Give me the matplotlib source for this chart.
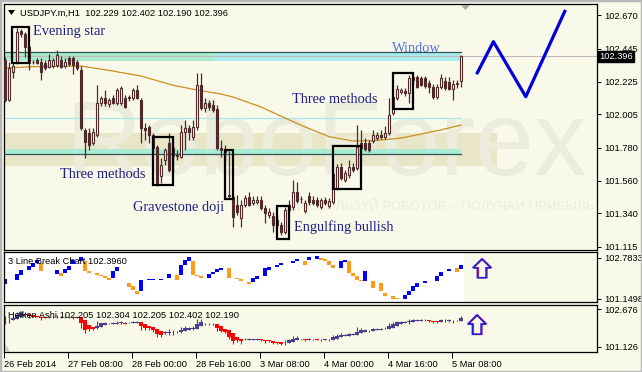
import matplotlib
matplotlib.use('Agg')
import matplotlib.pyplot as plt
from matplotlib.patches import Rectangle, Polygon
import numpy as np

W, H = 642, 372
BG = '#f9f9e9'
CANDLE = '#4e2a2a'
NAVY = '#1e1e86'
FONT = 'Liberation Sans'
FS = 6.7

# ── USDJPY H1 bars (bar index 0 = 26 Feb 16:00) ──────────────────────────────
opens = [102.370, 102.101, 102.289, 102.356, 102.565, 102.545, 102.457, 102.356, 102.370, 102.356,
         102.350, 102.323, 102.329, 102.336, 102.370, 102.329, 102.383, 102.383, 102.356, 102.303,
         101.899, 101.879, 101.812, 101.866, 102.081, 102.114, 102.074, 102.114, 102.081, 102.081,
         102.114, 102.114, 102.114, 102.168, 102.101, 101.913, 101.920, 101.866, 101.785, 101.590,
         101.698, 101.812, 101.778, 101.725, 101.718, 101.886, 101.913, 101.852, 101.920, 102.202,
         102.047, 102.081, 102.067, 102.041, 101.778, 101.765, 101.463, 101.449, 101.395, 101.308,
         101.395, 101.449, 101.409, 101.416, 101.429, 101.375, 101.328, 101.321, 101.295, 101.261,
         101.214, 101.362, 101.382, 101.483, 101.436, 101.355, 101.456, 101.429, 101.429, 101.382,
         101.429, 101.389, 101.416, 101.510, 101.651, 101.563, 101.597, 101.651, 101.644, 101.812,
         101.812, 101.812, 101.825, 101.846, 101.866, 101.852, 101.879, 102.014, 102.114, 102.155,
         102.161, 102.148, 102.235, 102.256, 102.249, 102.249, 102.215, 102.188, 102.121, 102.188,
         102.229, 102.222, 102.175, 102.209, 102.229]
highs = [102.390, 102.356, 102.356, 102.585, 102.578, 102.558, 102.471, 102.370, 102.383, 102.383,
         102.370, 102.410, 102.383, 102.437, 102.397, 102.383, 102.397, 102.397, 102.370, 102.329,
         101.913, 101.913, 101.913, 102.202, 102.128, 102.168, 102.114, 102.135, 102.182, 102.195,
         102.135, 102.135, 102.182, 102.202, 102.114, 101.946, 101.933, 101.879, 101.799, 101.711,
         101.778, 101.879, 101.832, 101.765, 101.933, 101.967, 101.933, 101.967, 102.282, 102.282,
         102.114, 102.101, 102.101, 102.067, 101.832, 101.799, 101.758, 101.463, 101.463, 101.429,
         101.463, 101.483, 101.456, 101.456, 101.456, 101.395, 101.375, 101.348, 101.328, 101.281,
         101.382, 101.429, 101.563, 101.550, 101.456, 101.429, 101.483, 101.456, 101.449, 101.442,
         101.449, 101.442, 101.624, 101.671, 101.678, 101.631, 101.698, 101.678, 101.933, 101.899,
         101.846, 101.832, 101.899, 101.886, 101.899, 101.926, 102.114, 102.135, 102.202, 102.182,
         102.182, 102.269, 102.269, 102.269, 102.262, 102.262, 102.235, 102.209, 102.209, 102.276,
         102.256, 102.256, 102.235, 102.235, 102.402]
lows = [102.088, 102.094, 102.249, 102.343, 102.524, 102.390, 102.303, 102.343, 102.343, 102.235,
        102.303, 102.316, 102.316, 102.323, 102.316, 102.316, 102.329, 102.276, 102.303, 101.899,
        101.711, 101.765, 101.799, 101.852, 102.061, 102.061, 102.054, 102.074, 102.067, 102.067,
        102.047, 102.094, 102.101, 102.108, 101.812, 101.832, 101.812, 101.745, 101.523, 101.543,
        101.664, 101.617, 101.617, 101.698, 101.711, 101.765, 101.832, 101.832, 101.899, 102.034,
        102.020, 102.034, 102.020, 101.765, 101.718, 101.698, 101.442, 101.248, 101.328, 101.248,
        101.382, 101.389, 101.395, 101.402, 101.362, 101.274, 101.308, 101.214, 101.241, 101.194,
        101.201, 101.348, 101.362, 101.409, 101.409, 101.342, 101.395, 101.395, 101.382, 101.369,
        101.395, 101.375, 101.402, 101.496, 101.563, 101.550, 101.577, 101.617, 101.631, 101.752,
        101.758, 101.752, 101.812, 101.832, 101.839, 101.839, 101.866, 102.000, 102.101, 102.141,
        102.128, 102.081, 102.209, 102.182, 102.195, 102.182, 102.148, 102.108, 102.108, 102.175,
        102.168, 102.168, 102.101, 102.182, 102.190]
closes = [102.101, 102.316, 102.329, 102.558, 102.545, 102.457, 102.350, 102.357, 102.350, 102.289,
          102.316, 102.370, 102.370, 102.403, 102.323, 102.356, 102.343, 102.336, 102.316, 101.913,
          101.819, 101.799, 101.886, 102.081, 102.114, 102.081, 102.101, 102.081, 102.168, 102.182,
          102.054, 102.121, 102.168, 102.114, 101.913, 101.899, 101.866, 101.778, 101.543, 101.664,
          101.765, 101.631, 101.725, 101.731, 101.886, 101.913, 101.886, 101.920, 102.202, 102.047,
          102.081, 102.054, 102.034, 101.778, 101.765, 101.752, 101.456, 101.315, 101.348, 101.395,
          101.442, 101.395, 101.429, 101.429, 101.375, 101.342, 101.348, 101.261, 101.261, 101.214,
          101.362, 101.395, 101.483, 101.422, 101.434, 101.409, 101.416, 101.409, 101.395, 101.429,
          101.409, 101.422, 101.604, 101.651, 101.577, 101.610, 101.651, 101.631, 101.785, 101.778,
          101.772, 101.765, 101.866, 101.866, 101.852, 101.879, 102.000, 102.121, 102.175, 102.168,
          102.148, 102.249, 102.256, 102.188, 102.202, 102.195, 102.188, 102.121, 102.188, 102.249,
          102.182, 102.175, 102.209, 102.215, 102.396]

# moving average read at a few bars
ma_bars = [0, 7, 19, 26, 34, 42, 48, 54, 57, 64, 70, 75, 81, 87, 93, 99, 104, 109, 114]
ma_vals = [102.316, 102.325, 102.329, 102.300, 102.262, 102.200, 102.168, 102.141, 102.121, 102.054,
           101.980, 101.920, 101.855, 101.825, 101.830, 101.845, 101.872, 101.900, 101.933]

# forecast zigzag
zz_bars = [117.9, 122.1, 130.2, 140.1]
zz_vals = [102.274, 102.493, 102.123, 102.706]

# pattern boxes
box_x0 = [1.83, 36.9, 55.0, 67.9, 81.9, 96.9]
box_x1 = [6.08, 42.1, 57.1, 71.0, 89.0, 101.9]
box_lo = [102.352, 101.530, 101.436, 101.169, 101.503, 102.040]
box_hi = [102.594, 101.849, 101.763, 101.391, 101.794, 102.284]

# 3 line break bricks
lb_bar = [0, 3, 4, 6, 7, 8, 9, 13, 14, 15, 16, 17, 19, 20, 21, 23, 24, 25, 26, 27, 28,
          31, 32, 33, 34, 36, 37, 39, 41, 43, 44, 45, 46, 47, 48, 49, 51, 52, 53, 54,
          56, 58, 59, 61, 62, 63, 65, 66, 68, 69, 72, 73, 75, 76, 78, 79, 80, 81, 82,
          84, 85, 86, 87, 88, 89, 90, 92, 94, 95, 97, 98, 100, 101, 102, 103, 105, 108,
          109, 111, 113, 114]
lb_lo = [101.748, 101.907, 102.106, 102.305, 102.425, 102.584, 102.266, 102.146, 102.066, 102.186,
         102.305, 102.544, 102.664, 102.266, 102.186, 102.106, 102.066, 101.987, 101.907, 101.987,
         102.266, 101.628, 101.508, 101.349, 101.469, 101.907, 101.907, 101.907, 101.987, 101.907,
         102.106, 102.505, 102.664, 102.106, 102.066, 101.987, 101.987, 102.146, 102.226, 102.305,
         101.987, 101.947, 101.867, 101.748, 101.827, 101.947, 102.066, 102.305, 102.425, 102.505,
         102.584, 102.664, 102.505, 102.704, 102.743, 102.704, 102.664, 102.505, 102.385, 102.385,
         102.624, 102.186, 102.066, 101.907, 101.867, 101.867, 101.588, 101.469, 101.269, 101.150,
         101.150, 101.150, 101.309, 101.469, 101.628, 101.787, 101.867, 102.066, 102.266, 102.226,
         102.345]
lb_hi = [101.947, 102.146, 102.305, 102.465, 102.584, 102.704, 102.584, 102.305, 102.186, 102.345,
         102.465, 102.704, 102.823, 102.664, 102.266, 102.186, 102.106, 102.066, 101.987, 102.266,
         102.425, 101.787, 101.668, 101.469, 101.907, 101.947, 101.947, 101.947, 102.146, 102.106,
         102.505, 102.704, 102.823, 102.664, 102.106, 102.066, 102.146, 102.226, 102.345, 102.385,
         102.385, 101.987, 101.947, 101.827, 101.987, 102.066, 102.385, 102.425, 102.505, 102.584,
         102.664, 102.743, 102.664, 102.823, 102.863, 102.783, 102.743, 102.664, 102.505, 102.664,
         102.704, 102.664, 102.186, 102.066, 101.907, 102.266, 101.867, 101.787, 101.389, 101.269,
         101.190, 101.309, 101.469, 101.668, 101.787, 101.867, 102.066, 102.226, 102.345, 102.385,
         102.505]
lb_up = [1, 1, 1, 1, 1, 1, 0, 1, 0, 1, 1, 1, 1, 0, 0, 0, 0, 0, 0, 1,
         1, 0, 0, 0, 1, 1, 1, 1, 1, 0, 1, 1, 1, 0, 0, 0, 1, 1, 1, 1,
         0, 0, 0, 0, 1, 1, 1, 1, 1, 1, 1, 1, 0, 1, 1, 0, 0, 0, 0, 1,
         1, 0, 0, 0, 0, 1, 0, 0, 0, 0, 0, 1, 1, 1, 1, 1, 1, 1, 1, 0,
         1]

tick_bars = [-0.25, 15.75, 31.75, 47.75, 63.75, 79.75, 95.75, 111.75]
tick_labels = ['26 Feb 2014', '27 Feb 08:00', '28 Feb 00:00', '28 Feb 16:00',
               '3 Mar 08:00', '4 Mar 00:00', '4 Mar 16:00', '5 Mar 08:00']
main_ticks = [102.670, 102.445, 102.225, 102.005, 101.780, 101.560, 101.340, 101.115]


def rect(x0, y0, x1, y1):
    return [x0 / W, 1 - y1 / H, (x1 - x0) / W, (y1 - y0) / H]


def fpt(x, y):
    return (x / W, 1 - y / H)


plt.rcParams['font.family'] = [FONT, 'DejaVu Sans']
fig = plt.figure(figsize=(W / 100, H / 100), dpi=100, facecolor=BG)

ax = fig.add_axes(rect(4, 4, 597, 250))
ax2 = fig.add_axes(rect(4, 252, 597, 302))
ax3 = fig.add_axes(rect(4, 305, 597, 352))

for a in (ax, ax2, ax3):
    a.set_facecolor(BG)
    a.set_xlim(-0.25, 148)
    for sp in a.spines.values():
        sp.set_color('black')
        sp.set_linewidth(0.9)
    a.yaxis.tick_right()
    a.tick_params(axis='y', labelsize=FS, length=3, width=0.7, pad=2, colors='black')
    a.tick_params(axis='x', length=0, labelbottom=False)

o = np.array(opens); h = np.array(highs); l = np.array(lows); c = np.array(closes)
x = np.arange(len(o))

# ── main panel ───────────────────────────────────────────────────────────────
ax.set_ylim(101.093, 102.746)

# watermark
ax.add_patch(Rectangle((-0.25, 101.657), 123.25, 0.222, facecolor='#e9e6c8', edgecolor='none', zorder=0))
ax.text(0.543, 0.415, 'RoboForex', transform=ax.transAxes, ha='center', va='center',
        fontsize=76, color='#ececdc', zorder=0.5, family='Liberation Sans')
ax.text(0.745, 0.175, 'ИСПОЛЬЗУЙ РОБОТОВ – ПОЛУЧАЙ ПРИБЫЛЬ', transform=ax.transAxes,
        ha='center', va='center', fontsize=9.5, color='#ececdc', zorder=0.5)

# zones and levels
ax.add_patch(Rectangle((-0.25, 102.363), 52.25, 0.063, facecolor='#a9ecc9', edgecolor='none', zorder=1))
ax.add_patch(Rectangle((52, 102.363), 62, 0.063, facecolor='#aaeced', edgecolor='none', zorder=1))
ax.plot([-0.25, 114], [102.426, 102.426], color='#2f5555', lw=0.9, zorder=2)
ax.add_patch(Rectangle((-0.25, 101.738), 114.25, 0.034, facecolor='#a9ecd3', edgecolor='none', zorder=1))
ax.plot([-0.25, 114], [101.738, 101.738], color='#2f5555', lw=0.9, zorder=2)
ax.plot([-0.25, 114], [101.980, 101.980], color='#a6e8ee', lw=0.9, zorder=2)
ax.axhline(102.396, color='#c4b8bc', lw=0.8, zorder=2)

ax.plot(ma_bars, ma_vals, color='#c8901e', lw=0.9, zorder=3)

# candles
ax.vlines(x, l, h, color=CANDLE, lw=0.9, zorder=4)
bull = c >= o
body_lo = np.minimum(o, c)
body_h = np.maximum(np.abs(c - o), 0.002)
ax.bar(x[bull], body_h[bull], bottom=body_lo[bull], width=0.7, facecolor='#fbfbf2',
       edgecolor=CANDLE, linewidth=0.8, zorder=5)
ax.bar(x[~bull], body_h[~bull], bottom=body_lo[~bull], width=0.7, facecolor=CANDLE,
       edgecolor=CANDLE, linewidth=0.8, zorder=5)

for bx0, bx1, blo, bhi in zip(box_x0, box_x1, box_lo, box_hi):
    ax.add_patch(Rectangle((bx0, blo), bx1 - bx0, bhi - blo, fill=False, edgecolor='black',
                           linewidth=1.6, zorder=6))

ax.plot(zz_bars, zz_vals, color='#0000dd', lw=2.3, zorder=6, solid_capstyle='butt')

serif = dict(family='Liberation Serif', fontsize=10.4, color=NAVY, zorder=7, va='center')
ax.text(6.9, 102.558, 'Evening star', **serif)
ax.text(96.7, 102.450, 'Window', **{**serif, 'color': '#4f74dc'})
ax.text(71.8, 102.104, 'Three methods', **serif)
ax.text(13.8, 101.602, 'Three methods', **serif)
ax.text(32.0, 101.381, 'Gravestone doji', **serif)
ax.text(72.3, 101.250, 'Engulfing bullish', **serif)

ax.set_yticks(main_ticks)
ax.set_yticklabels([f'{v:.3f}' for v in main_ticks])
ax.text(1.004, 102.396, '102.396', transform=ax.get_yaxis_transform(), ha='left', va='center',
        fontsize=FS, color='white', zorder=8,
        bbox=dict(boxstyle='square,pad=0.1', facecolor='black', edgecolor='black'))

# ── 3 line break panel ───────────────────────────────────────────────────────
ax2.set_ylim(101.030, 103.022)
ax2.axvspan(-0.25, 114.5, color='white', zorder=0)
lb_col = ['#0000ff' if u else '#ff9a1a' for u in lb_up]
ax2.bar(lb_bar, np.array(lb_hi) - np.array(lb_lo), bottom=lb_lo, width=1.0,
        color=lb_col, edgecolor='none', zorder=2)
ax2.set_yticks([102.7833, 101.1498])
ax2.set_yticklabels(['102.7833', '101.1498'])

# ── heiken ashi panel ────────────────────────────────────────────────────────
ax3.set_ylim(100.90, 102.86)
ha_c = (o + h + l + c) / 4
ha_o = np.empty_like(ha_c)
ha_o[0] = (o[0] + c[0]) / 2
for i in range(1, len(ha_c)):
    ha_o[i] = (ha_o[i - 1] + ha_c[i - 1]) / 2
ha_h = np.maximum(h, np.maximum(ha_o, ha_c))
ha_l = np.minimum(l, np.minimum(ha_o, ha_c))
ha_col = np.where(ha_c >= ha_o, '#4a4090', '#ff0000')
ax3.vlines(x, ha_l, ha_h, colors=ha_col, lw=0.8, zorder=2)
ax3.bar(x, np.maximum(np.abs(ha_c - ha_o), 0.012), bottom=np.minimum(ha_o, ha_c), width=0.8,
        color=ha_col, edgecolor='none', zorder=3)
ax3.set_yticks([102.676, 101.126])
ax3.set_yticklabels(['102.676', '101.126'])

ax3.tick_params(axis='x', length=4, width=0.7, labelbottom=True, labelsize=FS, pad=2, colors='black')
ax3.set_xticks(tick_bars)
ax3.set_xticklabels(tick_labels, ha='left')

# ── panel captions ───────────────────────────────────────────────────────────
fig.text(*fpt(20, 13), 'USDJPY.m,H1  102.229 102.402 102.190 102.396', fontsize=FS, va='center')
fig.text(*fpt(8, 262), '3 Line Break Chart 102.3960', fontsize=FS, va='center')
fig.text(*fpt(8, 315), 'Heiken Ashi 102.205 102.304 102.205 102.402 102.190', fontsize=FS, va='center')

# small markers
fig.patches.append(Polygon([fpt(8, 10), fpt(15, 10), fpt(11.5, 15)], closed=True,
                           facecolor='black', edgecolor='none', transform=fig.transFigure))
fig.patches.append(Polygon([fpt(461, 5), fpt(470, 5), fpt(465.5, 10)], closed=True,
                           facecolor='#a8a8a8', edgecolor='none', transform=fig.transFigure))
fig.patches.append(Polygon([fpt(5, 343), fpt(5, 351.5), fpt(10, 351.5)], closed=True,
                           facecolor='#c8c8c8', edgecolor='none', transform=fig.transFigure))


def up_arrow(x0, y0, w, hgt, shift_col):
    xc = x0 + w / 2
    hy = y0 + hgt * 0.47
    pts = [(xc, y0), (x0 + w, hy), (xc + w * 0.24, hy), (xc + w * 0.24, y0 + hgt),
           (xc - w * 0.24, y0 + hgt), (xc - w * 0.24, hy), (x0, hy)]
    for dx, col in ((1.0, shift_col), (0, '#1a1ad8')):
        fig.patches.append(Polygon([fpt(px + dx, py) for px, py in pts], closed=True, fill=False,
                                   edgecolor=col, linewidth=1.1, transform=fig.transFigure))


up_arrow(472.7, 259, 18, 18.7, '#c0306a')
up_arrow(467.7, 315, 18, 19.3, '#c0306a')

fig.patches.append(Rectangle((0, 0), 1, 1, fill=False, edgecolor='#b8b8b8', linewidth=2.5,
                             transform=fig.transFigure))

plt.savefig('out.png', dpi=100, facecolor=BG)
plt.close()
